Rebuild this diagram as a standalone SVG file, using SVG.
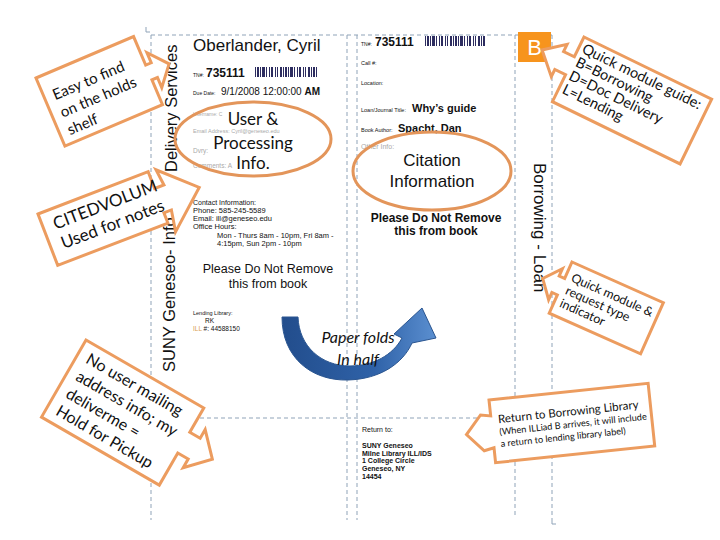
<svg xmlns="http://www.w3.org/2000/svg" width="720" height="540" viewBox="0 0 720 540">
<defs>
<style>
.dash{stroke:#8FA3B8;stroke-width:1;stroke-dasharray:4 3;fill:none}
.tick{stroke:#8FA3B8;stroke-width:1;fill:none}
.f{font-family:"Liberation Sans",Arial,sans-serif;fill:#111}
.faint{font-family:"Liberation Sans",Arial,sans-serif;fill:#aaa}
.co{fill:#fff;stroke:#EC9C5F;stroke-width:3;stroke-linejoin:miter}
.ct{font-family:Lato,"Open Sans",sans-serif;fill:#111}
.ell{fill:none;stroke:#E3955A;stroke-width:3}
.bc{stroke:#2d2d60;stroke-width:10;stroke-dasharray:1 1 2 1 1 1 3 1 1 2 1 1 2 2 1 1 1 2 2 1}
</style>
<linearGradient id="blue" x1="0" y1="0" x2="1" y2="0">
<stop offset="0" stop-color="#224d8c"/>
<stop offset="0.6" stop-color="#2f62a8"/>
<stop offset="1" stop-color="#5b8fd0"/>
</linearGradient>
</defs>
<rect width="720" height="540" fill="#fff"/>

<g id="folds">
<line class="dash" x1="151" y1="35" x2="552" y2="35"/>
<line class="dash" x1="151" y1="35" x2="151" y2="520"/>
<line class="dash" x1="347" y1="35" x2="347" y2="520"/>
<line class="dash" x1="357" y1="35" x2="357" y2="520"/>
<line class="dash" x1="515" y1="35" x2="515" y2="518"/>
<line class="dash" x1="552" y1="35" x2="552" y2="520"/>
<line class="dash" x1="151" y1="418" x2="552" y2="418"/>
<path class="tick" d="M146,27 V32 H150"/>
<path class="tick" d="M552,520 V524 H556"/>
</g>

<g id="left-form">
<text class="f" x="175" y="372" font-size="16.5" transform="rotate(-90 175 372)">SUNY Geneseo- Info</text>
<text class="f" x="177" y="172" font-size="16.5" transform="rotate(-90 177 172)">Delivery Services</text>
<text class="f" x="193" y="51" font-size="17">Oberlander, Cyril</text>
<text class="f" x="193" y="77" font-size="5">TN#:</text>
<text class="f" x="206" y="77" font-size="12" font-weight="bold">735111</text>
<line class="bc" x1="255" y1="72" x2="317" y2="72"/>
<text class="f" x="193" y="95" font-size="5">Due Date:</text>
<text class="f" x="221" y="95" font-size="10">9/1/2008 12:00:00 <tspan font-weight="bold">AM</tspan></text>
<text class="faint" x="193" y="116" font-size="5">Username: C</text>
<text class="faint" x="193" y="133" font-size="5.5">Email Address: Cyril@geneseo.edu</text>
<text class="faint" x="193" y="153" font-size="6.5">Dvry:</text>
<text class="faint" x="193" y="168" font-size="6.5">Comments: A</text>
<text class="f" x="193" y="205" font-size="7">Contact Information:</text>
<text class="f" x="193" y="213" font-size="7.5">Phone: 585-245-5589</text>
<text class="f" x="193" y="221" font-size="7.5">Email: ill@geneseo.edu</text>
<text class="f" x="193" y="229" font-size="7.5">Office Hours:</text>
<text class="f" x="217" y="238" font-size="7.5" fill="#555">Mon - Thurs 8am - 10pm, Fri 8am -</text>
<text class="f" x="217" y="246" font-size="7.5" fill="#555">4:15pm, Sun 2pm - 10pm</text>
<text class="f" x="268" y="273" font-size="12.5" text-anchor="middle" fill="#222">Please Do Not Remove</text>
<text class="f" x="268" y="288" font-size="12.5" text-anchor="middle" fill="#222">this from book</text>
<text class="f" x="193" y="315" font-size="5.5" fill="#555">Lending Library:</text>
<text class="f" x="205" y="323" font-size="6.5">RK</text>
<text class="f" x="193" y="331" font-size="6.5"><tspan fill="#d9a050">ILL</tspan> #:  44588150</text>
</g>

<g id="right-form">
<text class="f" x="361" y="46" font-size="5">TN#:</text>
<text class="f" x="375" y="46" font-size="12" font-weight="bold">735111</text>
<line class="bc" x1="425" y1="41" x2="486" y2="41"/>
<text class="f" x="361" y="65" font-size="5.5">Call #:</text>
<text class="f" x="361" y="85" font-size="5.5">Location:</text>
<text class="f" x="361" y="112" font-size="5.5">Loan/Journal Title:</text>
<text class="f" x="412" y="112" font-size="11" font-weight="bold">Why’s guide</text>
<text class="f" x="361" y="132" font-size="5.5">Book Author:</text>
<text class="f" x="398" y="132" font-size="11" font-weight="bold">Spacht, Dan</text>
<text class="faint" x="361" y="149" font-size="7">Other Info:</text>
<text class="f" x="436" y="222" font-size="12" font-weight="bold" text-anchor="middle">Please Do Not Remove</text>
<text class="f" x="436" y="235" font-size="12" font-weight="bold" text-anchor="middle">this from book</text>
<text class="f" x="534" y="163" font-size="17" transform="rotate(90 534 163)">Borrowing - Loan</text>
<text class="f" x="362" y="432" font-size="7">Return to:</text>
<text class="f" x="362" y="448" font-size="7" font-weight="bold">SUNY Geneseo</text>
<text class="f" x="362" y="456" font-size="7" font-weight="bold">Milne Library  ILL/IDS</text>
<text class="f" x="362" y="463" font-size="7" font-weight="bold">1 College Circle</text>
<text class="f" x="362" y="471" font-size="7" font-weight="bold">Geneseo, NY</text>
<text class="f" x="362" y="479" font-size="7" font-weight="bold">14454</text>
</g>

<g id="badge-b">
<rect x="518" y="32" width="33" height="30" fill="#F7941D"/>
<text x="534.5" y="55" font-size="22" text-anchor="middle" fill="#fff" font-family="Liberation Sans,Arial,sans-serif">B</text>
</g>

<g id="user-info">
<ellipse class="ell" cx="253" cy="139" rx="78" ry="37"/>
<text class="ct" x="253" y="125" font-size="17" text-anchor="middle">User &amp;</text>
<text class="ct" x="253" y="149" font-size="17" text-anchor="middle">Processing</text>
<text class="ct" x="253" y="169" font-size="17" text-anchor="middle">Info.</text>
</g>

<g id="citation-info">
<ellipse class="ell" cx="432" cy="171" rx="79" ry="39"/>
<text class="f" x="432" y="166" font-size="17" text-anchor="middle">Citation</text>
<text class="f" x="432" y="187" font-size="17" text-anchor="middle">Information</text>
</g>

<g id="fold-arrow">
<path d="M282,317 C282,358 312,381 348,380 C381,379 403,363 412,343 L436,338 L422,308 L394,334 L402,338 C393,355 373,366 350,366 C321,366 299,346 298,317 Z" fill="url(#blue)" stroke="#2a5590" stroke-width="1"/>
<text class="ct" x="358" y="343" font-size="16" font-style="italic" text-anchor="middle">Paper folds</text>
<text class="ct" x="358" y="365" font-size="16" font-style="italic" text-anchor="middle">In half</text>
</g>

<g id="callout-holds" transform="translate(36,78) rotate(-23)">
<path class="co" d="M0,0 L106,0 L106,31 L112,31 L112,20 L128,39 L112,58 L112,47 L106,47 L106,74 L0,74 Z"/>
<text class="ct" x="9" y="28" font-size="15">Easy to find</text>
<text class="ct" x="9" y="47" font-size="15">on the holds</text>
<text class="ct" x="9" y="66" font-size="15">shelf</text>
</g>

<g id="callout-citedvolum" transform="translate(38,214) rotate(-21)">
<path class="co" d="M0,0 L118,0 L118,18 L128,18 L126,1 L160,33 L122,66 L126,44 L118,44 L118,55 L0,55 Z"/>
<text class="ct" x="66" y="21" font-size="17" text-anchor="middle">CITEDVOLUM</text>
<text class="ct" x="66" y="42" font-size="17" text-anchor="middle">Used for notes</text>
</g>

<g id="callout-guide" transform="translate(584,37) rotate(26)">
<path class="co" d="M0,0 L142,0 L142,72 L0,72 L0,42 L-12,42 L-12,50 L-32,30 L-12,14 L-12,22 L0,22 Z"/>
<text class="ct" x="4" y="15" font-size="14.5">Quick module guide:</text>
<text class="ct" x="4" y="30" font-size="14.5">B=Borrowing</text>
<text class="ct" x="4" y="45" font-size="14.5">D=Doc Delivery</text>
<text class="ct" x="4" y="60" font-size="14.5">L=Lending</text>
</g>

<g id="callout-indicator" transform="translate(572,262) rotate(24)">
<path class="co" d="M0,0 L100,0 L100,56 L0,56 L0,36 L-6,36 L-6,44 L-20,27 L-6,10 L-6,18 L0,18 Z"/>
<text class="ct" x="6" y="18" font-size="12.5">Quick module &amp;</text>
<text class="ct" x="6" y="32" font-size="12.5">request type</text>
<text class="ct" x="6" y="46" font-size="12.5">indicator</text>
</g>

<g id="callout-pickup" transform="translate(86,340) rotate(30)">
<path class="co" d="M0,0 L136,0 L136,28 L148,28 L148,18 L169,40 L148,62 L148,52 L136,52 L136,89 L0,89 Z"/>
<text class="ct" x="10" y="20" font-size="16">No user mailing</text>
<text class="ct" x="10" y="40" font-size="16">address info; my</text>
<text class="ct" x="10" y="60" font-size="16">deliverme =</text>
<text class="ct" x="10" y="80" font-size="16">Hold for Pickup</text>
</g>

<g id="callout-return" transform="translate(489,400) rotate(-6)">
<path class="co" d="M0,0 L160,0 L160,63 L0,63 L0,48 L-10,50 L-26,32 L-10,14 L0,16 Z"/>
<text class="ct" x="7" y="24" font-size="11.5">Return to Borrowing Library</text>
<text class="ct" x="7" y="36" font-size="9.2">(When ILLiad B arrives, it will include</text>
<text class="ct" x="7" y="48" font-size="9.2">a return to lending library label)</text>
</g>
</svg>
